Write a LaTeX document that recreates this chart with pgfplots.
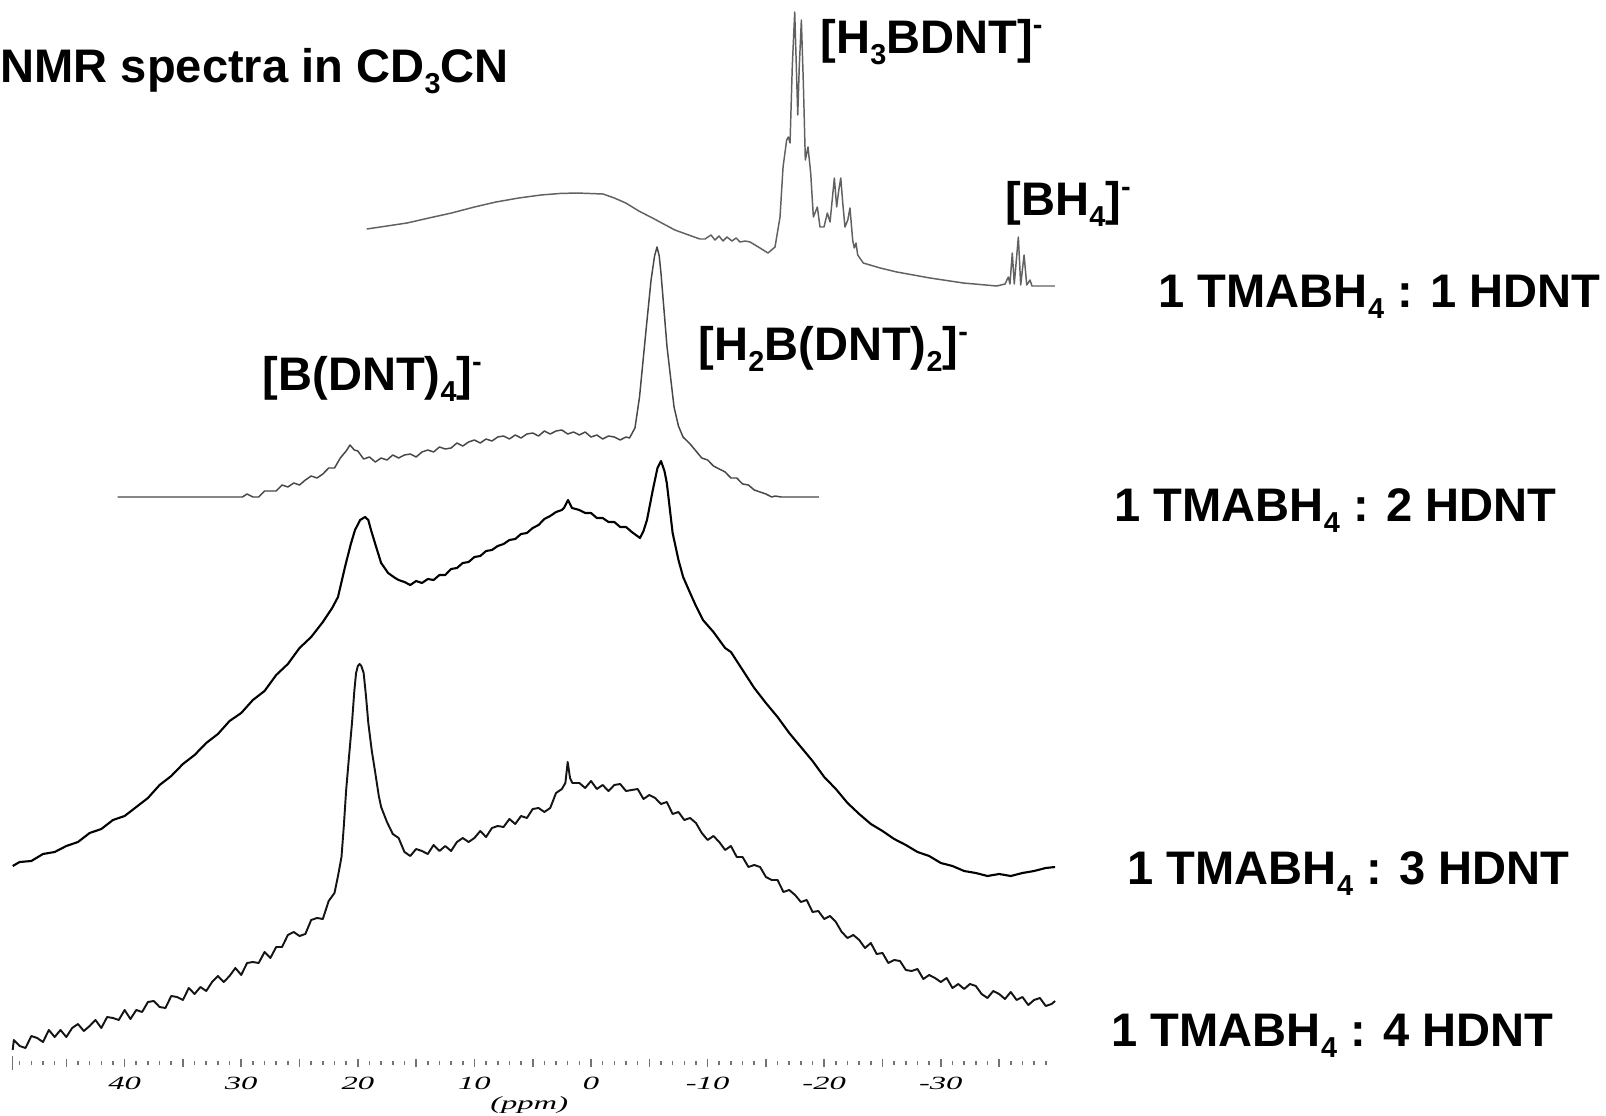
\documentclass[border=0pt]{standalone}
\usepackage{fontspec}
\setmainfont{Liberation Sans}
\newfontfamily\tickfont{Liberation Serif}
\usepackage{graphicx}
\usepackage{pgfplots}
\pgfplotsset{compat=1.18}
% stretched italic serif numbers, as on the spectrometer scale
\newcommand{\tl}[1]{\scalebox{1.75}[1]{\tickfont\itshape #1}}
\newcommand{\lab}{\fontsize{13.4}{16}\selectfont\bfseries}
\newcommand{\sub}[1]{\raisebox{-1.1mm}{\fontsize{8.2}{9}\selectfont #1}}
\newcommand{\minus}{\raisebox{1.9mm}{\fontsize{8.2}{9}\selectfont -}}

\begin{document}
\begin{tikzpicture}
\begin{axis}[
  width=160.6mm, height=106.3mm, scale only axis,
  x dir=reverse, xmin=-87.05, xmax=50.69,
  ymin=53, ymax=1116,
  axis x line*=bottom, axis y line=none,
  x axis line style={draw=none},
  xtick={-35,-30,...,45},
  xticklabels={,\tl{-30},,\tl{-20},,\tl{-10},,\tl{0},,\tl{10},,\tl{20},,\tl{30},,\tl{40},},
  minor xtick={-39,-38,...,49},
  extra x ticks={49.6}, extra x tick labels={},
  extra x tick style={major tick length=1.4mm},
  tick align=center,
  major tick length=0.8mm, minor tick length=0.4mm,
  tick style={black!55, line width=0.45pt},
  xticklabel style={font=\fontsize{5.3}{6}\selectfont, anchor=base, yshift=-2.2mm, inner sep=0pt},
  clip=false,
]
% 1 TMABH4 : 1 HDNT
\addplot[black!62, line width=0.42pt, line join=round] coordinates {
(19.23,887)(17.5,890)(15.78,893)(13.9,898)(11.96,903)(10,909)(8.15,914)(6.2,918)(4.29,921)(2.7,922.5)(1.23,923)(-1.03,922)(-2.0,918)(-2.98,913)(-4.1,905)(-5.27,898)(-7.19,886)(-9.09,878)(-9.35,877)(-9.78,877)(-10.29,881)(-10.63,876)(-10.98,880)(-11.32,875)(-11.66,879)(-12.09,875)(-12.44,878)(-12.78,874)(-13.21,875)(-13.64,874)(-14.49,868)(-15.18,863)(-15.78,869)(-16.21,899)(-16.47,949)(-16.78,976)(-16.92,979)(-17.07,973)(-17.26,1049)(-17.47,1104)(-17.61,1049)(-17.73,1001)(-17.86,1049)(-18.04,1096)(-18.21,1033)(-18.38,956)(-18.61,969)(-18.84,943)(-19.07,899)(-19.41,909)(-19.64,889)(-19.98,889)(-20.27,903)(-20.5,894)(-20.87,938)(-21.07,909)(-21.24,925)(-21.42,938)(-21.59,913)(-21.78,889)(-22.02,896)(-22.21,908)(-22.44,876)(-22.58,868)(-22.73,873)(-22.87,861)(-23.35,853)(-24.8,848)(-26.22,844)(-29.07,838)(-31.93,833)(-34.79,830)(-35.51,832)(-35.79,839)(-35.93,832)(-36.13,863)(-36.3,832)(-36.65,879)(-36.85,831)(-37.14,861)(-37.37,831)(-37.65,836)(-37.82,830)(-39.79,830)
};
% 1 TMABH4 : 2 HDNT
\addplot[black!72, line width=0.42pt, line join=round] coordinates {
(40.6,619)(29.9,619)(29.5,622)(29,619)(28.5,619)(28,625)(27.5,625)(27,625)(26.5,631)(26,629)(25.5,633)(25,631)(24.5,636)(24,640)(23.5,638)(23,642)(22.5,648)(22,648)(21.5,658)(21,665)(20.67,671)(20.3,666)(20,665)(19.5,657)(19,659)(18.5,654)(18,658)(17.5,656)(17,661)(16.5,658)(16,661)(15.5,662)(15,659)(14.5,664)(14,666)(13.5,664)(13,669)(12.5,667)(12,668)(11.5,673)(11,670)(10.5,674)(10,676)(9.5,673)(9,677)(8.5,675)(8,679)(7.5,680)(7,677)(6.5,681)(6,678)(5.5,682)(5,683)(4.5,680)(4,685)(3.5,682)(3,685)(2.5,686)(2,682)(1.5,684)(1,681)(0.5,684)(0,679)(-0.5,681)(-1,677)(-1.5,680)(-2,679)(-2.5,676)(-3,679)(-3.3,678)(-3.77,688)(-4.16,719)(-4.72,786)(-5.15,836)(-5.45,860)(-5.66,869)(-5.85,860)(-6,843)(-6.52,769)(-7.12,709)(-7.5,690)(-7.89,679)(-8.5,672)(-9,665)(-9.5,658)(-10,656)(-10.5,650)(-11,647)(-11.5,644)(-12,638)(-12.5,638)(-13,632)(-13.5,631)(-14,626)(-14.5,624)(-15,622)(-15.5,619)(-15.8,620)(-16.3,619)(-19.55,619)
};
% 1 TMABH4 : 3 HDNT
\addplot[black, line width=0.6pt, line join=round] coordinates {
(49.6,250)(49,254)(48,255)(47,262)(46,264)(45,270)(44,274)(43,283)(42,287)(41,296)(40,300)(39,309)(38,318)(37,331)(36,340)(35,352)(34,361)(33,373)(32,382)(31,395)(30,403)(29,416)(28,425)(27,441)(26,452)(25,468)(24,479)(23,494)(22.2,508)(21.7,519)(21.1,549)(20.6,572)(20.24,586)(19.8,596)(19.38,599)(19.1,596)(18.87,586)(18.4,568)(18,553)(17.4,543)(16.8,538)(16.5,536)(16,534)(15.5,531)(15,535)(14.5,533)(14,537)(13.5,536)(13,541)(12.5,541)(12,547)(11.5,548)(11,553)(10.5,554)(10,559)(9.5,560)(9,565)(8.5,566)(8,570)(7.5,572)(7,576)(6.5,577)(6,582)(5.5,583)(5,588)(4.5,591)(4,597)(3.5,600)(3,604)(2.5,606)(2.32,608)(1.97,616)(1.63,608)(1,606)(0.5,603)(0,603)(-0.5,598)(-1,598)(-1.5,594)(-2,594)(-2.5,589)(-3,589)(-3.5,584)(-4.2,578)(-4.5,585)(-4.8,596)(-5.3,626)(-5.7,648)(-6,655)(-6.3,645)(-6.5,633)(-7,583)(-7.5,556)(-7.9,539)(-8.5,523)(-9,510)(-9.6,496)(-10.5,484)(-11.5,468)(-12,464)(-13,446)(-14,428)(-15,413)(-16,399)(-17,383)(-18,369)(-19,355)(-20,339)(-21,327)(-22,313)(-23,302)(-24,292)(-25,285)(-26,277)(-27,271)(-28,264)(-29,260)(-30,253)(-31,250)(-32,245)(-33,243)(-34,240)(-35,242)(-36,240)(-37,243)(-38,245)(-39,248)(-39.8,249)
};
% 1 TMABH4 : 4 HDNT
\addplot[black!92, line width=0.55pt, line join=round] coordinates {
(49.6,66)(49.5,76)(49,70)(48.5,68)(48,80)(47.5,78)(47,74)(46.5,86)(46,79)(45.5,86)(45,79)(44.5,88)(44,92)(43.5,85)(43,90)(42.5,96)(42,88)(41.5,99)(41,98)(40.5,96)(40,106)(39.5,97)(39,106)(38.5,104)(38,114)(37.5,115)(37,109)(36.5,108)(36,120)(35.5,119)(35,116)(34.5,128)(34,122)(33.5,129)(33,125)(32.5,134)(32,140)(31.5,134)(31,140)(30.5,148)(30,141)(29.5,153)(29,154)(28.5,153)(28,164)(27.5,158)(27,169)(26.5,169)(26,181)(25.5,184)(25,180)(24.5,182)(24,196)(23.5,198)(23,197)(22.5,215)(22,223)(21.7,240)(21.4,259)(21.2,290)(21,326)(20.75,360)(20.5,393)(20.3,425)(20.15,443)(20,450)(19.85,452)(19.7,450)(19.5,443)(19.3,420)(19.1,393)(18.8,365)(18.5,343)(18.2,320)(18,309)(17.5,294)(17,282)(16.5,278)(16,264)(15.5,260)(15,267)(14.5,265)(14,262)(13.5,271)(13,265)(12.5,270)(12,265)(11.5,274)(11,278)(10.5,274)(10,278)(9.5,285)(9,279)(8.5,288)(8,290)(7.5,289)(7,297)(6.5,292)(6,300)(5.5,298)(5,307)(4.5,308)(4,304)(3.5,308)(3,323)(2.5,327)(2.2,333)(2,354)(1.8,338)(1.6,333)(1,333)(0.5,328)(0,335)(-0.5,327)(-1,331)(-1.5,325)(-2,331)(-2.5,332)(-3,325)(-3.5,326)(-4,327)(-4.5,317)(-5,321)(-5.5,318)(-6,312)(-6.5,314)(-7,302)(-7.5,304)(-8,296)(-8.5,298)(-9,293)(-9.5,283)(-10,276)(-10.5,280)(-11,274)(-11.5,266)(-12,270)(-12.5,259)(-13,259)(-13.5,249)(-14,251)(-14.5,249)(-15,239)(-15.5,236)(-16,236)(-16.5,224)(-17,226)(-17.5,221)(-18,214)(-18.5,216)(-19,204)(-19.5,205)(-20,197)(-20.5,200)(-21,194)(-21.5,184)(-22,178)(-22.5,181)(-23,176)(-23.5,168)(-24,173)(-24.5,162)(-25,163)(-25.5,153)(-26,156)(-26.5,155)(-27,146)(-27.5,145)(-28,147)(-28.5,137)(-29,141)(-29.5,138)(-30,134)(-30.5,138)(-31,128)(-31.5,132)(-32,127)(-32.5,132)(-33,130)(-33.5,122)(-34,118)(-34.5,125)(-35,122)(-35.5,117)(-36,124)(-36.5,116)(-37,119)(-37.5,111)(-38,116)(-38.5,118)(-39,110)(-39.5,112)(-39.8,115)
};
% labels
\begin{scope}[every node/.style={anchor=base west, inner sep=0pt, font=\lab}]
\node at (axis cs:50.69,1034) {NMR spectra in CD\sub{3}CN};
\node at (axis cs:-19.64,1063) {[H\sub{3}BDNT]\minus};
\node at (axis cs:-35.5,901) {[BH\sub{4}]\minus};
\node at (axis cs:-9.18,756) {[H\sub{2}B(DNT)\sub{2}]\minus};
\node at (axis cs:28.22,726) {[B(DNT)\sub{4}]\minus};
\node at (axis cs:-48.63,809) {1 TMABH\sub{4} : 1 HDNT};
\node at (axis cs:-44.85,595) {1 TMABH\sub{4} : 2 HDNT};
\node at (axis cs:-45.97,232) {1 TMABH\sub{4} : 3 HDNT};
\node at (axis cs:-44.60,70) {1 TMABH\sub{4} : 4 HDNT};
\end{scope}
\node[anchor=south, inner sep=0pt, font=\fontsize{5.3}{6}\selectfont] at (axis cs:5.3,2) {\tl{(ppm)}};
\end{axis}
\pgfresetboundingbox
\path[use as bounding box] (current axis.south west) ++(0,-5.3mm) rectangle (current axis.north east);
\end{tikzpicture}
\end{document}
